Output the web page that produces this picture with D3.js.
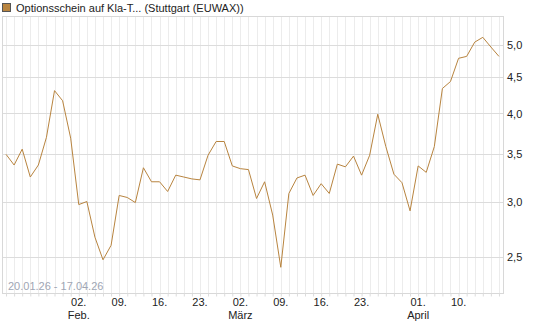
<!DOCTYPE html>
<html>
<head>
<meta charset="utf-8">
<script src="https://cdn.jsdelivr.net/npm/d3@7"></script>
<style>
  body { margin: 0; background: #fff; }
  text { font-family: "Liberation Sans", Arial, sans-serif; }
</style>
</head>
<body>
<script>
// trading days 20.01.26 - 17.04.26
var dates = ["20.01","21.01","22.01","23.01","26.01","27.01","28.01","29.01","30.01",
  "02.02","03.02","04.02","05.02","06.02","09.02","10.02","11.02","12.02","13.02",
  "16.02","17.02","18.02","19.02","20.02","23.02","24.02","25.02","26.02","27.02",
  "02.03","03.03","04.03","05.03","06.03","09.03","10.03","11.03","12.03","13.03",
  "16.03","17.03","18.03","19.03","20.03","23.03","24.03","25.03","26.03","27.03",
  "30.03","31.03","01.04","02.04","07.04","08.04","09.04","10.04","13.04","14.04",
  "15.04","16.04","17.04"];

var prices = [3.50,3.38,3.56,3.25,3.38,3.70,4.31,4.17,3.69,
  2.97,3.00,2.67,2.48,2.60,3.06,3.04,2.99,3.35,3.20,
  3.20,3.10,3.27,3.25,3.23,3.22,3.49,3.65,3.65,3.37,
  3.34,3.33,3.03,3.20,2.87,2.42,3.08,3.24,3.27,3.06,
  3.18,3.08,3.39,3.36,3.48,3.27,3.49,3.99,3.59,3.28,
  3.19,2.91,3.37,3.30,3.59,4.34,4.44,4.79,4.82,5.05,
  5.13,4.97,4.82];

var dayTicks = ["02.02","09.02","16.02","23.02","02.03","09.03","16.03","23.03","01.04","10.04"];
var monthTicks = ["02.02","02.03","01.04"];
var monthNames = ["Feb.","März","April"];
var yTicks = [2.5, 3.0, 3.5, 4.0, 4.5, 5.0];

var title = "Optionsschein auf Kla-T... (Stuttgart (EUWAX))";
var range = "20.01.26 - 17.04.26";

var w = 545, h = 327;
var pLeft = 2, pRight = 503, pTop = 16, pBottom = 293;
var lineColor = "#b8843f";

var svg = d3.select("body").append("svg")
    .attr("width", w)
    .attr("height", h);

var x = d3.scaleLinear().domain([-0.5, dates.length - 0.5]).range([pLeft, pRight]);
var y = d3.scaleLog().domain([2.225, 5.5]).range([pBottom, pTop]);

function px(v){ return Math.round(v) + 0.5; }

var de = d3.formatLocale({decimal: ",", thousands: ".", grouping: [3], currency: ["", " €"]});

// vertical day grid
svg.append("g")
    .selectAll("line")
    .data(dates)
    .join("line")
    .attr("x1", function(d, i){ return px(x(i)); })
    .attr("x2", function(d, i){ return px(x(i)); })
    .attr("y1", pTop)
    .attr("y2", pBottom)
    .attr("stroke", "#ececec");

// horizontal grid
svg.append("g")
    .selectAll("line")
    .data(yTicks)
    .join("line")
    .attr("x1", pLeft)
    .attr("x2", pRight)
    .attr("y1", function(d){ return px(y(d)); })
    .attr("y2", function(d){ return px(y(d)); })
    .attr("stroke", "#dcdcdc");

// frame
svg.append("rect")
    .attr("x", pLeft + 0.5)
    .attr("y", pTop + 0.5)
    .attr("width", pRight - pLeft)
    .attr("height", pBottom - pTop)
    .attr("fill", "none")
    .attr("stroke", "#d8d8d8");

// small ticks below the axis for every day
var xAxis = d3.axisBottom(x)
    .tickValues(d3.range(dates.length))
    .tickSize(3)
    .tickFormat("");
var gx = svg.append("g")
    .attr("transform", "translate(0," + (pBottom + 0.5) + ")")
    .call(xAxis);
gx.select(".domain").remove();
gx.selectAll(".tick line")
    .attr("stroke", "#dcdcdc");

// day labels
svg.append("g")
    .selectAll("text")
    .data(dayTicks)
    .join("text")
    .attr("x", function(d){ return x(dates.indexOf(d)); })
    .attr("y", 306)
    .attr("text-anchor", "middle")
    .attr("font-size", "11px")
    .attr("fill", "#222")
    .text(function(d){ return d.slice(0, 3); });

// month labels
svg.append("g")
    .selectAll("text")
    .data(monthTicks)
    .join("text")
    .attr("x", function(d){ return x(dates.indexOf(d)); })
    .attr("y", 319)
    .attr("text-anchor", "middle")
    .attr("font-size", "11px")
    .attr("fill", "#222")
    .text(function(d, i){ return monthNames[i]; });

// y axis on the right
var yAxis = d3.axisRight(y)
    .tickValues(yTicks)
    .tickSize(0)
    .tickPadding(4)
    .tickFormat(de.format(".1f"));
var gy = svg.append("g")
    .attr("transform", "translate(" + pRight + ",0)")
    .call(yAxis);
gy.select(".domain").remove();
gy.selectAll("text")
    .attr("font-family", "Liberation Sans, Arial, sans-serif")
    .attr("font-size", "11px")
    .attr("fill", "#222");

// price line
var line = d3.line()
    .x(function(d, i){ return x(i); })
    .y(function(d){ return y(d); });

svg.append("path")
    .datum(prices)
    .attr("d", line)
    .attr("fill", "none")
    .attr("stroke", lineColor)
    .attr("stroke-width", 1);

// date range
svg.append("text")
    .attr("x", 8)
    .attr("y", 290)
    .attr("font-size", "11px")
    .attr("fill", "#a0a6b4")
    .text(range);

// legend
svg.append("rect")
    .attr("x", 2.5)
    .attr("y", 3.5)
    .attr("width", 8)
    .attr("height", 8)
    .attr("fill", lineColor)
    .attr("stroke", "#555");

svg.append("text")
    .attr("x", 16)
    .attr("y", 12)
    .attr("font-size", "11px")
    .attr("fill", "#222")
    .text(title);
</script>
</body>
</html>
